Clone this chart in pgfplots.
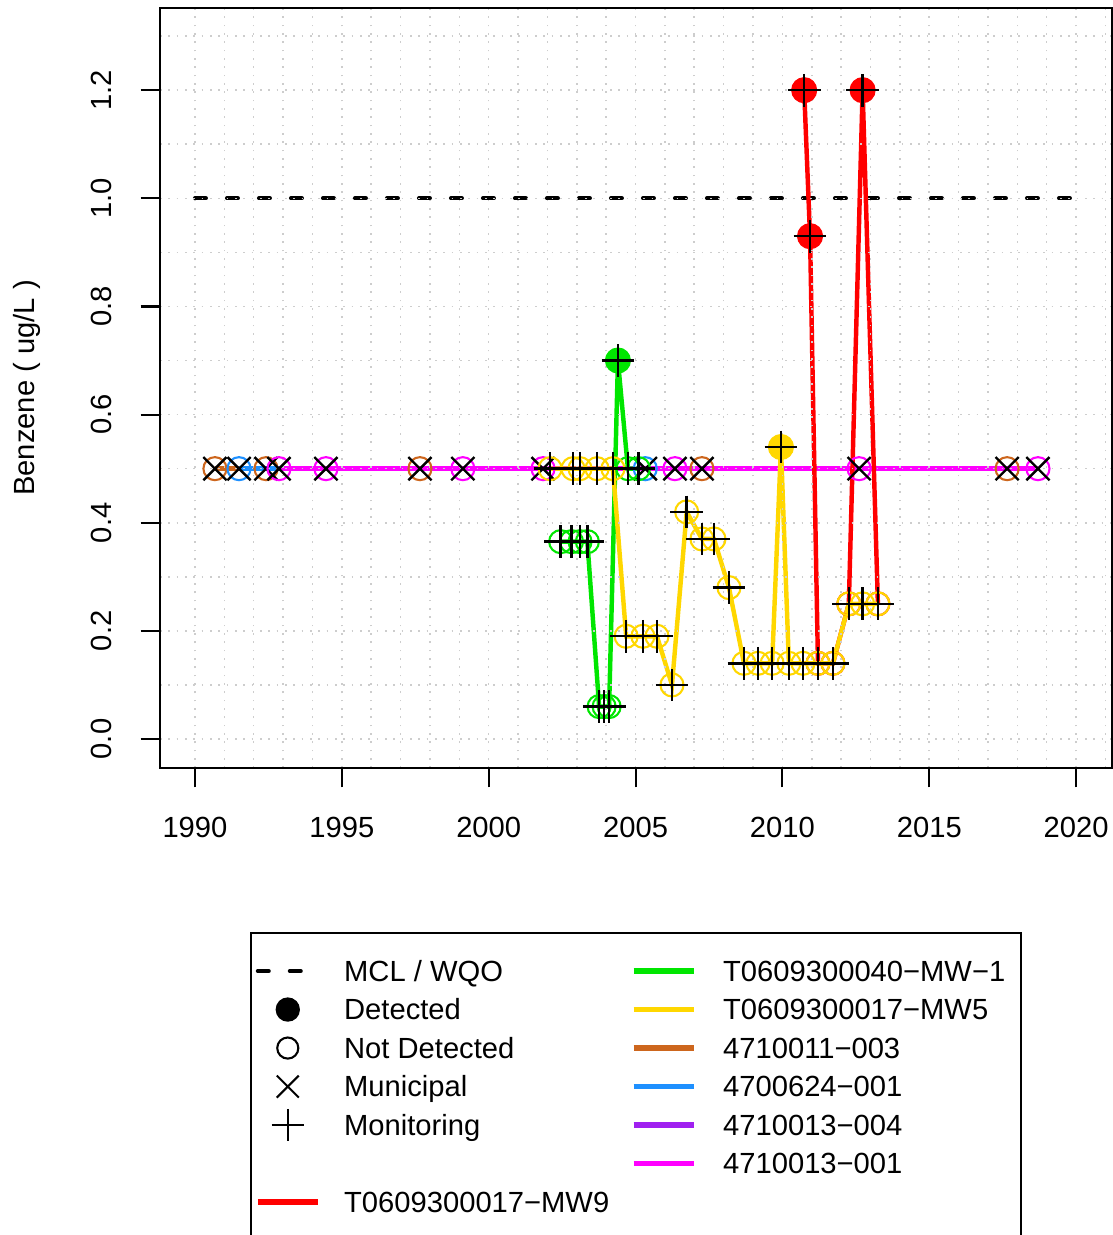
\documentclass[border=0pt]{standalone}
\usepackage{fontspec}
\setmainfont{Liberation Sans}
\usepackage{pgfplots}
\usepackage{pgfplotstable}
\pgfplotsset{compat=1.18}
\definecolor{cgreen}{RGB}{0,230,0}
\definecolor{cgold}{RGB}{255,215,0}
\definecolor{cbrown}{RGB}{205,102,29}
\definecolor{cblue}{RGB}{30,144,255}
\definecolor{cpurple}{RGB}{160,32,240}
\definecolor{cmag}{RGB}{255,0,255}
\definecolor{cred}{RGB}{255,0,0}
\definecolor{cgrid}{RGB}{205,205,205}
\newcommand{\fs}{\fontsize{10.5}{12.6}\selectfont}
\pgfplotsset{
  ln/.style={line width=1.6pt, mark=none, forget plot},
  nd/.style={only marks, mark=o, mark size=4.15pt, mark options={line width=0.75pt}, forget plot},
  det/.style={only marks, mark=*, mark size=4.5pt, forget plot},
  mon/.style={only marks, black, mark=+, mark size=5.9pt, mark options={line width=0.85pt}, forget plot},
  mun/.style={only marks, black, mark=x, mark size=5.9pt, mark options={line width=0.85pt}, forget plot},
}
% 4710011-003
\pgfplotstableread{
x y
1990.68 0.5
1992.42 0.5
1997.66 0.5
2007.26 0.5
2017.65 0.5
}\brown
% 4700624-001
\pgfplotstableread{
x y
1991.50 0.5
2005.33 0.5
}\blue
% 4710013-001
\pgfplotstableread{
x y
1992.86 0.5
1994.46 0.5
1999.12 0.5
2001.85 0.5
2006.34 0.5
2012.61 0.5
2018.70 0.5
}\magenta
% T0609300040-MW-1
\pgfplotstableread{
x y
2002.45 0.365
2002.82 0.365
2003.11 0.365
2003.36 0.365
2003.76 0.06
2003.93 0.06
2004.10 0.06
2004.40 0.70
2004.74 0.50
2005.10 0.50
}\green
\pgfplotstableread{
x y
2002.45 0.365
2002.82 0.365
2003.11 0.365
2003.36 0.365
2003.76 0.06
2003.93 0.06
2004.10 0.06
2004.74 0.50
2005.10 0.50
}\greenND
\pgfplotstableread{
x y
2004.40 0.70
}\greenD
% T0609300017-MW5
\pgfplotstableread{
x y
2002.09 0.50
2002.87 0.50
2003.11 0.50
2003.69 0.50
2004.23 0.50
2004.68 0.19
2005.25 0.19
2005.73 0.19
2006.24 0.10
2006.74 0.42
2007.26 0.37
2007.67 0.37
2008.18 0.28
2008.69 0.14
2009.17 0.14
2009.65 0.14
2009.95 0.54
2010.22 0.14
2010.70 0.14
2011.21 0.14
2011.72 0.14
2012.26 0.25
2012.73 0.25
2013.25 0.25
}\gold
\pgfplotstableread{
x y
2002.09 0.50
2002.87 0.50
2003.11 0.50
2003.69 0.50
2004.23 0.50
2004.68 0.19
2005.25 0.19
2005.73 0.19
2006.24 0.10
2006.74 0.42
2007.26 0.37
2007.67 0.37
2008.18 0.28
2008.69 0.14
2009.17 0.14
2009.65 0.14
2010.22 0.14
2010.70 0.14
2011.21 0.14
2011.72 0.14
2012.26 0.25
2012.73 0.25
2013.25 0.25
}\goldND
\pgfplotstableread{
x y
2009.95 0.54
}\goldD
% T0609300017-MW9
\pgfplotstableread{
x y
2010.74 1.20
2010.94 0.93
2011.21 0.14
2011.72 0.14
2012.26 0.25
2012.73 1.20
2013.25 0.25
}\red
\pgfplotstableread{
x y
2011.21 0.14
2011.72 0.14
2012.26 0.25
2013.25 0.25
}\redND
\pgfplotstableread{
x y
2010.74 1.20
2010.94 0.93
2012.73 1.20
}\redD
\begin{document}
\fs
\begin{tikzpicture}
\useasboundingbox (0,0) rectangle (400.68pt,444.6pt);
\begin{axis}[
  at={(57.6pt,168.12pt)}, anchor=south west,
  scale only axis, width=342.72pt, height=273.6pt,
  xmin=1988.81, xmax=2021.22, ymin=-0.0536, ymax=1.352,
  axis on top,
  axis line style={black, line width=0.75pt},
  xtick={1990,1995,...,2020},
  ytick={0,0.2,0.4,0.6,0.8,1.0,1.2},
  minor xtick={1990,...,2021},
  minor ytick={0,0.1,0.2,0.3,0.4,0.5,0.6,0.7,0.8,0.9,1.0,1.1,1.2,1.3},
  xmajorgrids, ymajorgrids, xminorgrids, yminorgrids,
  major grid style={cgrid, line width=0.55pt, dash pattern=on 0.55pt off 2.45pt},
  minor grid style={cgrid, line width=0.55pt, dash pattern=on 0.55pt off 2.45pt},
  minor tick length=0pt,
  major tick length=7pt,
  tick align=outside,
  tick pos=left,
  major tick style={black, line width=0.75pt},
  /pgf/number format/assume math mode=true,
  xticklabel style={font=\fs, /pgf/number format/1000 sep={}, anchor=center, yshift=-14.36pt},
  yticklabel style={font=\fs, /pgf/number format/fixed, /pgf/number format/fixed zerofill, /pgf/number format/precision=1, xshift=-14pt, rotate=90, anchor=center},
  ylabel={Benzene ( ug/L )},
  ylabel style={font=\fs, at={(axis description cs:-0.1397,0.5)}, anchor=center},
  legend image code/.code={\draw[mark repeat=2, mark phase=2, #1] plot coordinates {(0pt,0pt) (10.8pt,0pt) (21.6pt,0pt)};},
  legend columns=2,
  legend cell align=left,
  legend style={at={(0.0945,-0.2158)}, anchor=north west, draw=black, line width=0.75pt, font=\fs,
    inner xsep=1.44pt, inner ysep=6.75pt, row sep=0pt, column sep=9.6pt,
    /tikz/column 1/.style={column sep=8.5pt},
    /tikz/column 2/.style={column sep=7.8pt},
    /tikz/column 3/.style={column sep=9.6pt},
    nodes={inner sep=0pt, text height=10.68pt, text depth=3.18pt}},
]
% MCL / WQO
\addplot[black, line width=1.44pt, line cap=round, dash pattern=on 3.96pt off 7.56pt, forget plot] coordinates {(1990,1.0) (2020,1.0)};
% 4710011-003
\addplot[ln, cbrown] table {\brown};
\addplot[nd, cbrown] table {\brown};
\addplot[mun] table {\brown};
% 4700624-001
\addplot[ln, cblue] table {\blue};
\addplot[nd, cblue] table {\blue};
\addplot[mun] table {\blue};
% 4710013-001
\addplot[ln, cmag] table {\magenta};
\addplot[nd, cmag] table {\magenta};
\addplot[mun] table {\magenta};
% MW9
\addplot[ln, cred] table {\red};
\addplot[nd, cred] table {\redND};
\addplot[det, cred] table {\redD};
\addplot[mon] table {\red};
% MW-1
\addplot[ln, cgreen] table {\green};
\addplot[nd, cgreen] table {\greenND};
\addplot[det, cgreen] table {\greenD};
\addplot[mon] table {\green};
% MW5
\addplot[ln, cgold] table {\gold};
\addplot[nd, cgold] table {\goldND};
\addplot[det, cgold] table {\goldD};
\addplot[mon] table {\gold};
% legend
\addlegendimage{black, line width=1.44pt, line cap=round, dash pattern=on 3.96pt off 7.56pt}
\addlegendentry{MCL / WQO}
\addlegendimage{cgreen, line width=2pt}
\addlegendentry{T0609300040−MW−1\hspace*{4.3pt}}
\addlegendimage{only marks, black, mark=*, mark size=4pt}
\addlegendentry{Detected}
\addlegendimage{cgold, line width=2pt}
\addlegendentry{T0609300017−MW5}
\addlegendimage{only marks, black, mark=o, mark size=3.8pt, mark options={line width=0.75pt}}
\addlegendentry{Not Detected}
\addlegendimage{cbrown, line width=2pt}
\addlegendentry{4710011−003}
\addlegendimage{only marks, black, mark=x, mark size=5.6pt, mark options={line width=0.75pt}}
\addlegendentry{Municipal}
\addlegendimage{cblue, line width=2pt}
\addlegendentry{4700624−001}
\addlegendimage{only marks, black, mark=+, mark size=5.8pt, mark options={line width=0.75pt}}
\addlegendentry{Monitoring}
\addlegendimage{cpurple, line width=2pt}
\addlegendentry{4710013−004}
\addlegendimage{empty legend}
\addlegendentry{}
\addlegendimage{cmag, line width=2pt}
\addlegendentry{4710013−001}
\addlegendimage{cred, line width=2pt}
\addlegendentry{T0609300017−MW9}
\end{axis}
\end{tikzpicture}
\end{document}
